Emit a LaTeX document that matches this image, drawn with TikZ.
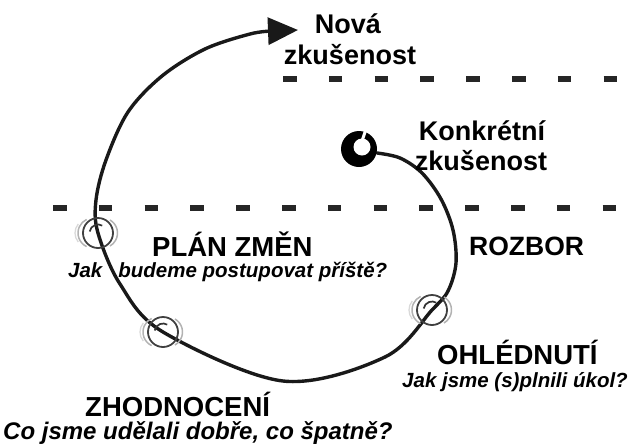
\documentclass[tikz,border=0pt]{standalone}
\usepackage{fontspec}
\setmainfont{Liberation Sans}
\usetikzlibrary{arrows.meta}
\tikzset{
  dashrow/.style={line width=6.5pt, dash pattern=on 13.5pt off 32.3pt, black!85},
  spiral/.style={line width=3.4pt, black!90, line cap=round},
  phase/.style={inner sep=0pt, font=\fontsize{27.5}{32}\selectfont\bfseries},
  question/.style={inner sep=0pt, font=\fontsize{20.5}{24}\selectfont\bfseries\itshape},
  exper/.style={inner sep=0pt, align=center, font=\fontsize{27}{32}\selectfont\bfseries},
  spinring/.pic={
    \draw[gray!30, line width=1.3pt] (-9,0) ++(140:14) arc[start angle=140, end angle=220, radius=14];
    \draw[gray!60, line width=1.5pt] (-5,0) ++(115:15) arc[start angle=115, end angle=245, radius=15];
    \draw[gray!60, line width=1.5pt] (4.5,0) ++(-60:15) arc[start angle=-60, end angle=60, radius=15];
    \draw[black!75, line width=1.8pt] (0,0) circle[radius=15];
    \draw[black!80, line width=1.7pt] (0,0) ++(190:8.5) arc[start angle=190, end angle=300, radius=8.5];
  }
}
\begin{document}
\begin{tikzpicture}[x=1pt, y=-1pt]
\useasboundingbox (0,0) rectangle (635,445);

% dashed boundaries
\draw[dashrow] (283,79) -- (617,79);
\draw[dashrow] (53,208) -- (617,208);

% points along the learning spiral
\coordinate (start) at (377,153);
\coordinate (m3) at (432,310);
\coordinate (m2) at (163,332);
\coordinate (m1) at (98,233);
\coordinate (tip) at (298,30);

% the spiral from the concrete experience to the new one
\draw[spiral, -{Triangle[length=30pt, width=27pt]}]
  plot[smooth, tension=0.55] coordinates {
    (start) (400,158) (422,173) (441,199) (453,230) (456,263) (448,291) (m3)
    (385,357) (283,381) (m2) (120,284) (m1) (96,200) (106,160) (128,112)
    (162,76) (205,49) (250,34) (272,31)}
  -- (tip);

% spinning rings on the spiral
\pic at (m1) {spinring};
\pic at (m2) {spinring};
\pic at (m3) {spinring};

% starting blob
\fill[black] (359,149) circle[radius=18];
\fill[white] (362,147) circle[radius=8.5];
\draw[white, line width=3pt] (362,141) -- (366,129);

% texts
\node[exper, anchor=base] (nova) at (348,33) {Nová};
\node[exper, anchor=base] (novazk) at (350,64) {zkušenost};
\node[exper, anchor=base] (konk) at (482,140) {Konkrétní};
\node[exper, anchor=base] (konkzk) at (481,170) {zkušenost};

\node[phase, anchor=base west] (plan) at (152,256) {PLÁN ZMĚN};
\node[question, anchor=base west] (planq) at (68,277) {Jak\hspace*{16pt}budeme postupovat příště?};
\node[phase, anchor=base west, font=\fontsize{26.5}{31}\selectfont\bfseries] (rozbor) at (469,255) {ROZBOR};
\node[phase, anchor=base west] (ohled) at (437,364) {OHLÉDNUTÍ};
\node[question, anchor=base west] (ohledq) at (402,387) {Jak jsme (s)plnili úkol?};
\node[phase, anchor=base west] (zhod) at (85,416) {ZHODNOCENÍ};
\node[question, anchor=base west, font=\fontsize{24}{28}\selectfont\bfseries\itshape] (zhodq) at (3,439) {Co jsme udělali dobře, co špatně?};
\end{tikzpicture}
\end{document}
